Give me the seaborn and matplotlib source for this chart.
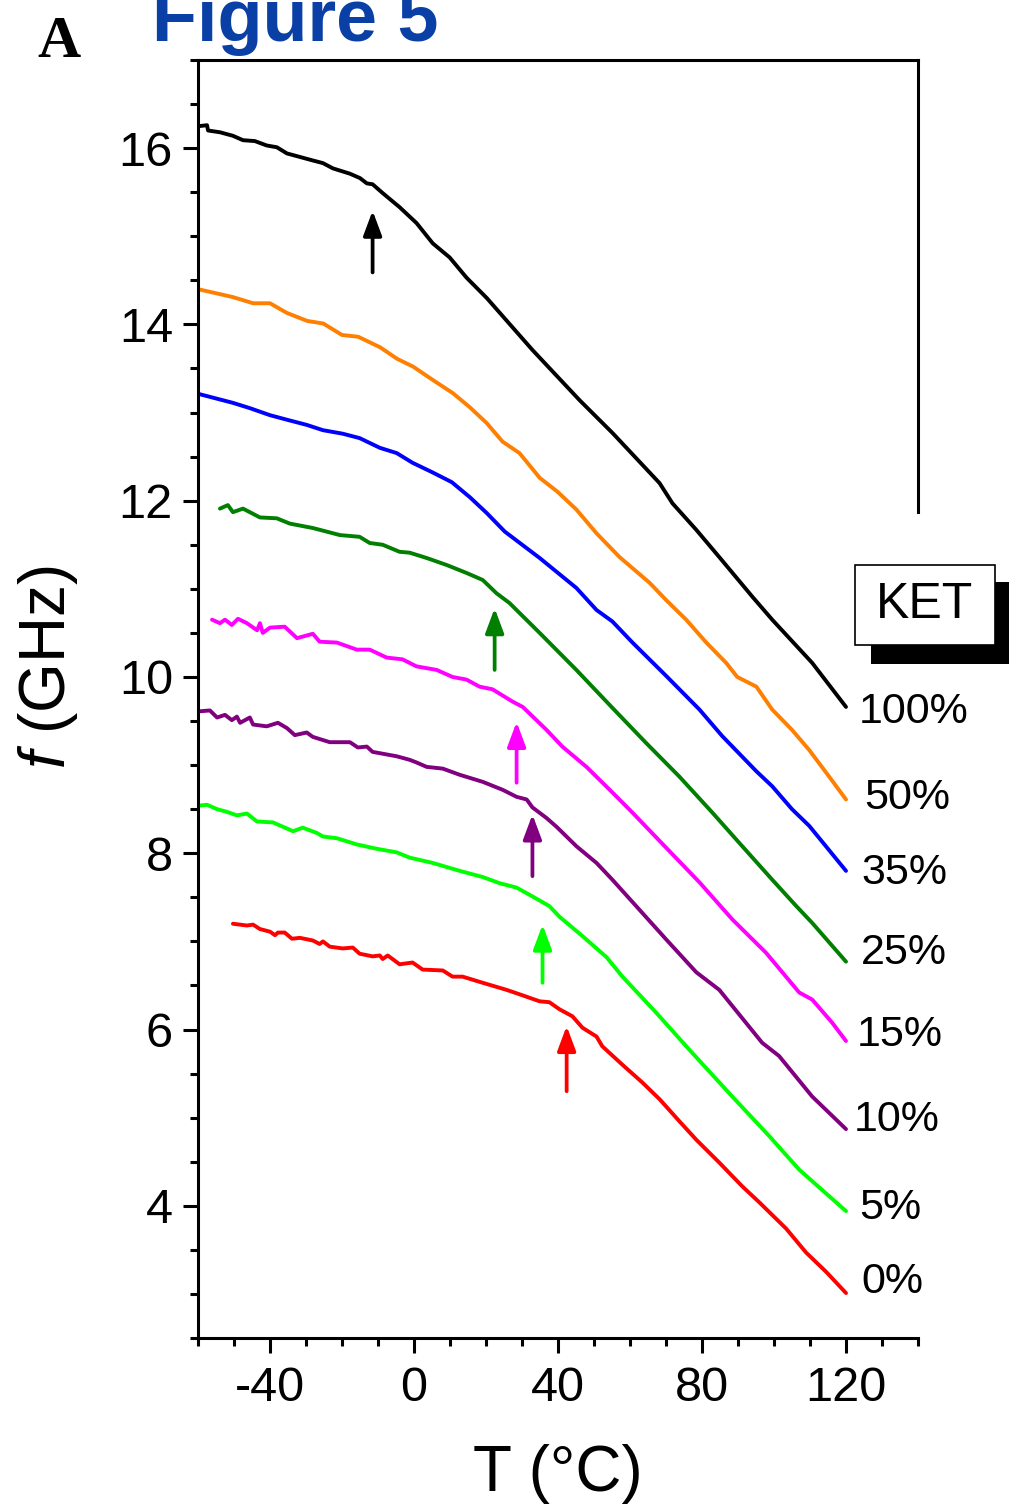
import numpy as np
import pandas as pd
import matplotlib
matplotlib.use("Agg")
import matplotlib.pyplot as plt
import seaborn as sns
from matplotlib.patches import Rectangle
from matplotlib.ticker import MultipleLocator

sns.set_style("ticks")
plt.rcParams["font.family"] = ["Liberation Sans", "DejaVu Sans"]
plt.rcParams["mathtext.fontset"] = "custom"
plt.rcParams["mathtext.rm"] = "Liberation Sans"
plt.rcParams["mathtext.it"] = "Liberation Sans:italic"
plt.rcParams["axes.unicode_minus"] = False
plt.rcParams["text.color"] = "black"
plt.rcParams["axes.labelcolor"] = "black"
plt.rcParams["xtick.color"] = "black"
plt.rcParams["ytick.color"] = "black"

# ---- Brillouin frequency vs temperature for each KET fraction ----
t_100 = [-59.7, -57.5, -57.2, -53.9, -50.3, -47.5, -44.2, -40.9, -38.1, -35.3, -31.7, -28.1,
         -25.3, -22.5, -17.8, -15.0, -13.1, -11.5, -8.7, -4.0, 0.7, 5.2, 9.9, 14.6, 20.2,
         32.9, 46.0, 55.1, 68.2, 71.8, 78.4, 84.8, 94.0, 99.5, 110.6, 120.0]
f_100 = [16.25, 16.26, 16.20, 16.18, 16.14, 16.09, 16.08, 16.03, 16.01, 15.94, 15.90, 15.86,
         15.83, 15.77, 15.71, 15.66, 15.60, 15.59, 15.49, 15.33, 15.15, 14.92, 14.76, 14.53, 14.30,
         13.71, 13.14, 12.77, 12.20, 11.97, 11.67, 11.36, 10.91, 10.65, 10.16, 9.66]

t_50 = [-60.0, -50.3, -44.7, -40.0, -35.3, -29.7, -25.2, -20.0, -15.5, -9.4, -4.7, -0.2, 5.2,
        10.8, 15.5, 20.2, 24.6, 29.3, 34.9, 39.9, 45.1, 50.7, 57.1, 65.4, 70.1, 75.6, 81.2,
        86.7, 89.8, 95.1, 99.5, 105.0, 109.8, 115.3, 120.0]
f_50 = [14.40, 14.31, 14.24, 14.24, 14.13, 14.04, 14.01, 13.88, 13.86, 13.74, 13.61, 13.52, 13.37,
        13.22, 13.06, 12.88, 12.67, 12.54, 12.26, 12.10, 11.90, 11.63, 11.36, 11.07, 10.87, 10.65,
        10.39, 10.16, 10.00, 9.89, 9.63, 9.40, 9.17, 8.87, 8.61]

t_35 = [-59.7, -50.3, -45.6, -40.0, -34.5, -29.8, -25.3, -19.8, -15.1, -9.5, -4.8, -0.4, 5.2,
        10.5, 15.5, 20.2, 25.2, 34.9, 45.1, 50.7, 55.1, 60.7, 70.1, 79.3, 85.6, 95.1, 99.5,
        105.0, 109.8, 120.0]
f_35 = [13.21, 13.11, 13.05, 12.97, 12.91, 12.86, 12.80, 12.76, 12.71, 12.60, 12.54, 12.43, 12.32,
        12.21, 12.04, 11.86, 11.65, 11.35, 11.01, 10.76, 10.63, 10.39, 10.01, 9.63, 9.33, 8.93,
        8.76, 8.50, 8.31, 7.80]

t_25 = [-53.9, -51.7, -50.3, -47.5, -42.8, -38.1, -34.5, -28.1, -20.6, -15.1, -12.3, -8.7, -4.0,
        -1.2, 3.5, 9.1, 14.6, 19.1, 22.9, 26.5, 34.9, 45.1, 55.1, 64.5, 73.7, 82.9, 90.3, 99.5,
        106.2, 110.6, 120.0]
f_25 = [11.91, 11.95, 11.87, 11.91, 11.81, 11.80, 11.74, 11.69, 11.61, 11.59, 11.52, 11.50, 11.42,
        11.41, 11.35, 11.27, 11.18, 11.10, 10.95, 10.84, 10.50, 10.08, 9.65, 9.25, 8.87, 8.46,
        8.12, 7.70, 7.40, 7.21, 6.77]

t_15 = [-56.1, -53.9, -52.5, -50.6, -48.9, -46.4, -43.6, -42.8, -42.0, -40.0, -35.9, -32.5, -28.1,
        -26.2, -21.4, -15.9, -12.3, -7.6, -3.2, 0.7, 6.3, 10.7, 14.6, 18.2, 21.8, 27.4, 30.2,
        36.8, 41.2, 47.9, 55.1, 60.7, 70.1, 79.3, 88.4, 97.8, 107.0, 110.6, 116.1, 120.0]
f_15 = [10.65, 10.61, 10.65, 10.59, 10.66, 10.61, 10.53, 10.61, 10.50, 10.56, 10.57, 10.44, 10.49,
        10.40, 10.39, 10.31, 10.31, 10.22, 10.20, 10.12, 10.08, 10.00, 9.97, 9.89, 9.86, 9.72, 9.66,
        9.40, 9.21, 8.98, 8.69, 8.46, 8.06, 7.67, 7.25, 6.87, 6.42, 6.34, 6.08, 5.87]

t_10 = [-59.7, -56.7, -54.7, -52.5, -50.6, -49.2, -48.3, -45.6, -44.7, -40.9, -37.8, -35.3, -33.1,
        -29.8, -28.1, -23.4, -17.8, -15.6, -13.1, -11.5, -4.8, -1.2, 0.7, 3.5, 8.0, 12.7, 19.1,
        24.6, 28.5, 31.3, 32.9, 36.8, 39.6, 45.1, 50.7, 55.1, 62.6, 70.1, 78.4, 84.8, 96.7,
        101.4, 110.6, 120.0]
f_10 = [9.61, 9.62, 9.54, 9.57, 9.51, 9.55, 9.48, 9.54, 9.46, 9.44, 9.48, 9.42, 9.34,
        9.37, 9.32, 9.26, 9.26, 9.20, 9.21, 9.15, 9.10, 9.06, 9.03, 8.98, 8.96, 8.89, 8.81,
        8.72, 8.64, 8.61, 8.52, 8.40, 8.30, 8.08, 7.89, 7.70, 7.36, 7.02, 6.65, 6.45, 5.85,
        5.70, 5.24, 4.87]

t_5 = [-59.7, -57.5, -54.7, -52.0, -49.2, -46.4, -43.6, -39.2, -36.4, -33.6, -30.9, -27.0, -25.3,
       -21.4, -15.9, -10.3, -4.8, -1.2, 5.2, 12.7, 19.1, 23.8, 28.5, 32.9, 37.6, 40.4, 46.8,
       53.5, 57.9, 67.3, 76.5, 88.4, 98.7, 107.0, 120.0]
f_5 = [8.54, 8.55, 8.50, 8.47, 8.43, 8.45, 8.36, 8.35, 8.30, 8.25, 8.29, 8.23, 8.19,
       8.17, 8.10, 8.05, 8.01, 7.95, 7.89, 7.80, 7.73, 7.66, 7.61, 7.51, 7.40, 7.28, 7.06,
       6.82, 6.60, 6.19, 5.77, 5.24, 4.79, 4.41, 3.94]

t_0 = [-50.3, -46.4, -44.7, -42.8, -40.0, -38.6, -37.8, -35.9, -33.9, -31.7, -28.1, -26.2, -25.3,
       -23.4, -19.8, -17.0, -15.1, -11.5, -9.5, -8.7, -7.3, -4.0, -0.4, 2.4, 8.0, 10.7, 13.5,
       19.1, 25.7, 29.3, 34.9, 37.6, 40.4, 44.0, 46.8, 50.7, 52.3, 57.9, 63.4, 68.2, 73.7, 78.4,
       84.8, 91.2, 95.9, 103.4, 108.9, 114.5, 120.0]
f_0 = [7.20, 7.18, 7.19, 7.14, 7.11, 7.07, 7.10, 7.10, 7.03, 7.04, 7.01, 6.97, 7.00,
       6.94, 6.92, 6.93, 6.86, 6.83, 6.84, 6.80, 6.84, 6.74, 6.76, 6.68, 6.67, 6.60, 6.60,
       6.53, 6.45, 6.40, 6.32, 6.31, 6.23, 6.15, 6.02, 5.92, 5.81, 5.60, 5.40, 5.21, 4.96, 4.75,
       4.49, 4.22, 4.04, 3.74, 3.47, 3.25, 3.01]

series = ["100%", "50%", "35%", "25%", "15%", "10%", "5%", "0%"]
temps = [t_100, t_50, t_35, t_25, t_15, t_10, t_5, t_0]
freqs = [f_100, f_50, f_35, f_25, f_15, f_10, f_5, f_0]
colors = ["#000000", "#FF8000", "#0000FF", "#007F00", "#FF00FF", "#800080", "#00FF00", "#FF0000"]

# end-of-curve labels (data coordinates of the left/centre of each label)
label_t = [123.6, 125.0, 124.2, 124.2, 123.1, 122.2, 123.6, 124.2]
label_f = [9.60, 8.63, 7.78, 6.87, 5.94, 4.97, 3.98, 3.13]

# arrows marking the onset of the transition (series, T, tail f, tip f)
arrow_series = ["100%", "25%", "15%", "10%", "5%", "0%"]
arrow_t = [-11.5, 22.4, 28.5, 32.9, 35.7, 42.4]
arrow_tail = [14.59, 10.08, 8.80, 7.74, 6.53, 5.30]
arrow_tip = [15.29, 10.78, 9.49, 8.44, 7.19, 6.04]

df = pd.concat(
    [pd.DataFrame({"T": t, "f": f, "KET": s}) for s, t, f in zip(series, temps, freqs)],
    ignore_index=True,
)
palette = dict(zip(series, colors))

W, H = 1009, 1508
fig = plt.figure(figsize=(W / 100, H / 100), dpi=100)
ax = fig.add_axes([198 / W, 1 - 1338 / H, 720 / W, 1278 / H])

sns.lineplot(data=df, x="T", y="f", hue="KET", palette=palette, sort=False,
             estimator=None, lw=2.8, legend=False, ax=ax)
for ln in ax.lines:
    ln.set_solid_joinstyle("round")
    ln.set_solid_capstyle("round")

for s, t, a, b in zip(arrow_series, arrow_t, arrow_tail, arrow_tip):
    ax.annotate("", xy=(t, b), xytext=(t, a),
                arrowprops=dict(arrowstyle="-|>,head_length=0.75,head_width=0.28",
                                color=palette[s], lw=2.7, mutation_scale=20,
                                shrinkA=0, shrinkB=0))

for s, t, f in zip(series, label_t, label_f):
    ax.text(t, f, s, fontsize=31, color="black", ha="left", va="center", clip_on=False)

ax.set_xlim(-60, 140)
ax.set_ylim(2.5, 17)
ax.xaxis.set_major_locator(MultipleLocator(40))
ax.xaxis.set_minor_locator(MultipleLocator(10))
ax.yaxis.set_major_locator(MultipleLocator(2))
ax.yaxis.set_minor_locator(MultipleLocator(0.5))
ax.set_xticks([-40, 0, 40, 80, 120])
ax.tick_params(which="both", direction="out", width=2.2, color="black",
               labelcolor="black", top=False, right=False)
ax.tick_params(which="major", length=11, labelsize=35)
ax.tick_params(which="minor", length=5.5)
ax.tick_params(axis="x", which="major", pad=9)
ax.tick_params(axis="y", which="major", pad=7)

for sp in ax.spines.values():
    sp.set_linewidth(2.2)
    sp.set_color("black")
ax.spines["right"].set_bounds(11.87, 17)

ax.set_xlabel("T (°C)", fontsize=46, labelpad=24, color="black")
ax.set_ylabel("")
fig.text(48 / W, 1 - 667 / H, r"$\mathit{f}$ (GHz)", fontsize=46, rotation=90,
         ha="center", va="center", color="black")

fig.text(152 / W, 1 - 41 / H, "Figure 5", fontsize=53, fontweight="bold",
         color="#0A40A6", ha="left", va="baseline")
fig.text(37 / W, 1 - 57 / H, "A", fontsize=43, fontweight="bold", color="black",
         family=["Liberation Serif", "DejaVu Serif"], ha="left", va="baseline")

# KET key box with drop shadow
def px_rect(x0, y0, x1, y1, **kw):
    return Rectangle((x0 / W, 1 - y1 / H), (x1 - x0) / W, (y1 - y0) / H,
                     transform=fig.transFigure, **kw)

fig.patches.append(px_rect(871, 582, 1012, 664, facecolor="black", edgecolor="none"))
fig.patches.append(px_rect(855, 565, 995, 645, facecolor="white", edgecolor="black", lw=1.2))
fig.text(925 / W, 1 - 605 / H, "KET", fontsize=36, ha="center", va="center", color="black")

fig.savefig("out.png", dpi=100)
